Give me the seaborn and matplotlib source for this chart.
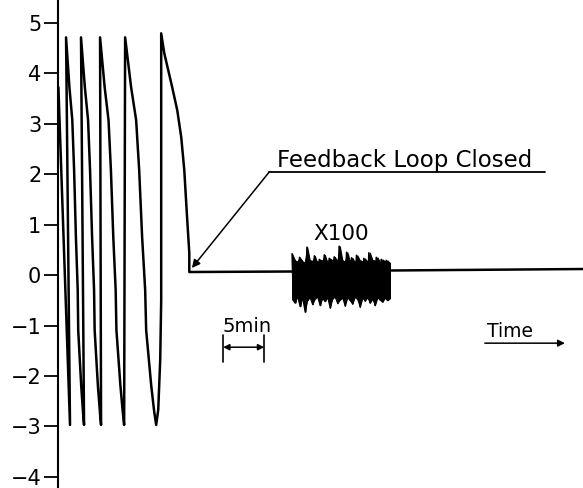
import numpy as np
import seaborn as sns
import matplotlib.pyplot as plt

# Traço do registrador (tempo em minutos, sinal em unidades do eixo)
time_min = [0.05, 1.46,
            0.98,
            1.39, 1.74, 1.96, 2.18, 2.40, 2.46, 2.82, 3.04, 3.17,
            2.80,
            3.27, 3.66, 3.90, 4.15, 4.39, 4.46, 4.85, 5.10, 5.24,
            5.12,
            5.68, 6.15, 6.44, 6.73, 7.02, 7.11, 7.59, 7.88, 8.05,
            8.17,
            8.90, 9.51, 9.88, 10.24, 10.61, 10.73, 11.34, 11.71, 11.95,
            12.20, 12.44, 12.56, 12.56,
            12.93, 13.90, 14.51, 15.00, 15.37, 15.73, 15.98, 15.98,
            28.5, 40.4, 64.5]
signal = [3.72, -2.97,
          4.71,
          3.72, 3.07, 2.08, 0.75, -0.30, -1.09, -2.18, -2.71, -2.97,
          4.71,
          3.72, 3.07, 2.08, 0.75, -0.30, -1.09, -2.18, -2.71, -2.97,
          4.71,
          3.72, 3.07, 2.08, 0.75, -0.30, -1.09, -2.18, -2.71, -2.97,
          4.71,
          3.72, 3.07, 2.08, 0.75, -0.30, -1.09, -2.18, -2.71, -2.97,
          -2.67, -1.68, -0.50, 4.79,
          4.40, 3.72, 3.27, 2.73, 2.08, 1.09, 0.44, 0.06,
          0.07, 0.09, 0.12]

# Trecho ampliado X100 (envoltória superior / inferior)
noise_upper = [0.42, 0.30, 0.26, 0.35, 0.28, 0.24, 0.55, 0.30, 0.27, 0.38,
               0.25, 0.31, 0.28, 0.40, 0.26, 0.33, 0.29, 0.36, 0.27, 0.57,
               0.30, 0.26, 0.45, 0.28, 0.34, 0.25, 0.39, 0.29, 0.27, 0.33,
               0.26, 0.44, 0.30, 0.28, 0.35, 0.26, 0.31, 0.27, 0.29, 0.24]
noise_lower = [-0.48, -0.55, -0.42, -0.62, -0.45, -0.73, -0.50, -0.44, -0.58, -0.47,
               -0.43, -0.60, -0.46, -0.52, -0.44, -0.65, -0.47, -0.43, -0.56, -0.49,
               -0.45, -0.61, -0.44, -0.50, -0.57, -0.43, -0.48, -0.63, -0.45, -0.51,
               -0.44, -0.55, -0.47, -0.60, -0.44, -0.49, -0.53, -0.45, -0.50, -0.46]
noise_start, noise_end = 28.5, 40.4

y_ticks = [5, 4, 3, 2, 1, 0, -1, -2, -3, -4]
y_labels = ["5", "4", "3", "2", "1", "0", "\u22121", "\u22122", "\u22123", "\u22124"]

sns.set_theme(style="white")
plt.rcParams['font.family'] = ['DejaVu Sans']

fig = plt.figure(figsize=(5.83, 4.88), dpi=100)
ax = fig.add_axes([58 / 583, 0, 1 - 58 / 583, 1])

sns.lineplot(x=time_min, y=signal, sort=False, estimator=None,
             color='black', lw=1.8, ax=ax)

# bloco de ruído: envoltória preenchida + zigue-zague
env_t = np.linspace(noise_start, noise_end, len(noise_upper))
ax.fill_between(env_t, noise_lower, noise_upper, color='black', lw=0.8)
noise_vals = [v for pair in zip(noise_upper, noise_lower) for v in pair]
noise_t = np.linspace(noise_start, noise_end, len(noise_vals))
sns.lineplot(x=noise_t, y=noise_vals, sort=False, estimator=None,
             color='black', lw=1.2, ax=ax)

ax.set_xlim(0, 63.9)
ax.set_ylim(-4.22, 5.45)
ax.set_xticks([])
ax.set_yticks(y_ticks)
ax.set_yticklabels(y_labels, fontsize=15, color='black')
ax.tick_params(axis='y', direction='out', length=10, width=1.3,
               color='black', pad=2, left=True)
for s in ['top', 'right', 'bottom']:
    ax.spines[s].set_visible(False)
ax.spines['left'].set_color('black')
ax.spines['left'].set_linewidth(1.5)

# Anotações
ax.plot([25.7, 59.3], [2.04, 2.04], color='black', lw=1.3)
ax.annotate("", xy=(16.3, 0.14), xytext=(25.7, 2.04),
            arrowprops=dict(arrowstyle='-|>', color='black', lw=1.1,
                            mutation_scale=12, shrinkA=0, shrinkB=0))
ax.text(26.6, 2.14, "Feedback Loop Closed", fontsize=16.5, va='baseline',
        ha='left', color='black')
ax.text(34.5, 0.69, "X100", fontsize=15.5, va='baseline', ha='center',
        color='black')

ax.text(20.0, -1.13, "5min", fontsize=14, va='baseline', ha='left',
        color='black')
ax.plot([20.1, 20.1], [-1.19, -1.72], color='black', lw=1.2)
ax.plot([25.1, 25.1], [-1.19, -1.72], color='black', lw=1.2)
ax.annotate("", xy=(20.1, -1.43), xytext=(25.1, -1.43),
            arrowprops=dict(arrowstyle='<|-|>', color='black', lw=1.1,
                            mutation_scale=9, shrinkA=0, shrinkB=0))

ax.text(52.2, -1.23, "Time", fontsize=13.5, va='baseline', ha='left',
        color='black')
ax.annotate("", xy=(61.7, -1.35), xytext=(51.95, -1.35),
            arrowprops=dict(arrowstyle='-|>', color='black', lw=1.1,
                            mutation_scale=10, shrinkA=0, shrinkB=0))

fig.savefig("out.png", dpi=100, facecolor='white')
plt.close(fig)
